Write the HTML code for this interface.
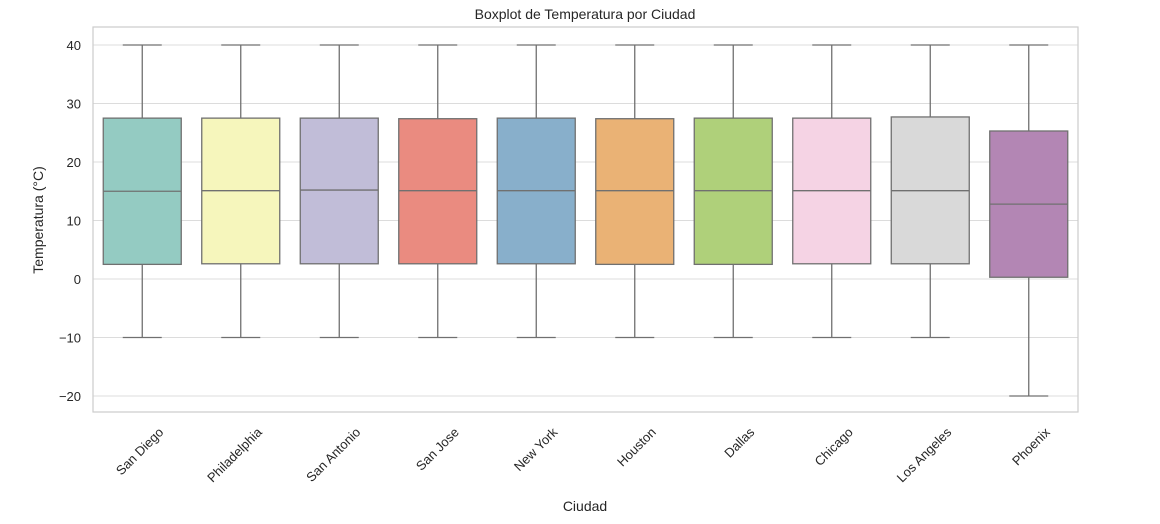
<!DOCTYPE html>
<html><head><meta charset="utf-8"><style>
body{margin:0;background:#fff;font-family:"Liberation Sans","DejaVu Sans",sans-serif;}
svg text{font-family:"Liberation Sans","DejaVu Sans",sans-serif;fill:#262626;}
</style></head><body>
<svg id="chart" width="1160" height="519" xmlns="http://www.w3.org/2000/svg">
<rect width="1160" height="519" fill="#fff"/>
<g id="grid"></g>
<rect x="93" y="27" width="985" height="385" fill="none" stroke="#cccccc" stroke-width="1.2"/>
<g id="boxes"></g>
<g id="yticks"></g>
<g id="xticks"></g>
<text x="585" y="19" text-anchor="middle" font-size="14">Boxplot de Temperatura por Ciudad</text>
<text x="585" y="511" text-anchor="middle" font-size="14">Ciudad</text>
<text transform="translate(43,220) rotate(-90)" text-anchor="middle" font-size="14">Temperatura (°C)</text>
</svg>
<script>
const cities=["San Diego","Philadelphia","San Antonio","San Jose","New York","Houston","Dallas","Chicago","Los Angeles","Phoenix"];
const lowWhisker=[-10,-10,-10,-10,-10,-10,-10,-10,-10,-20];
const q1=[2.5,2.6,2.6,2.6,2.6,2.5,2.5,2.6,2.6,0.3];
const median=[15.0,15.1,15.2,15.1,15.1,15.1,15.1,15.1,15.1,12.8];
const q3=[27.5,27.5,27.5,27.4,27.5,27.4,27.5,27.5,27.7,25.3];
const highWhisker=[40,40,40,40,40,40,40,40,40,40];
const yTicks=[-20,-10,0,10,20,30,40];
const colors=["#94cbc2","#f6f6bc","#c1bdd8","#ea8b80","#88afcb","#eab275","#afd07a","#f5d3e4","#d9d9d9","#b386b4"];
const NS="http://www.w3.org/2000/svg";
const x0=93,x1=1078;
const band=(x1-x0)/cities.length;
const xC=i=>x0+band*(i+0.5);
const y=v=>279-v*5.85;
function mk(tag,attrs,parent){const e=document.createElementNS(NS,tag);for(const k in attrs)e.setAttribute(k,attrs[k]);parent.appendChild(e);return e;}
const grid=document.getElementById('grid'),yt=document.getElementById('yticks'),xt=document.getElementById('xticks'),bx=document.getElementById('boxes');
yTicks.forEach(t=>{
 const l=mk('line',{x1:x0,x2:x1,y1:y(t),y2:y(t),stroke:'#dcdcdc','stroke-width':1},grid);
 
 
 const tx=mk('text',{x:x0-12,y:y(t)+5,'text-anchor':'end','font-size':13},yt);
 tx.textContent=(t<0?'\u2212'+(-t):t);
 
 
});
const bw=78;
cities.forEach((c,i)=>{
 const cx=xC(i);
 const g=mk('g',{},bx);
 
 
 const st={stroke:'#707070','stroke-width':1.3};
 mk('line',Object.assign({x1:cx,x2:cx,y1:y(highWhisker[i]),y2:y(q3[i])},st),g);
 mk('line',Object.assign({x1:cx,x2:cx,y1:y(q1[i]),y2:y(lowWhisker[i])},st),g);
 mk('line',Object.assign({x1:cx-bw/4,x2:cx+bw/4,y1:y(highWhisker[i]),y2:y(highWhisker[i])},st),g);
 mk('line',Object.assign({x1:cx-bw/4,x2:cx+bw/4,y1:y(lowWhisker[i]),y2:y(lowWhisker[i])},st),g);
 mk('rect',Object.assign({x:cx-bw/2,y:y(q3[i]),width:bw,height:y(q1[i])-y(q3[i]),fill:colors[i]},st),g);
 mk('line',Object.assign({x1:cx-bw/2,x2:cx+bw/2,y1:y(median[i]),y2:y(median[i])},st),g);
 const tx=mk('text',{transform:`translate(${cx+22},${433}) rotate(-45)`,'text-anchor':'end','font-size':13},xt);
 tx.textContent=c;
 
 
});
</script>
</body></html>
